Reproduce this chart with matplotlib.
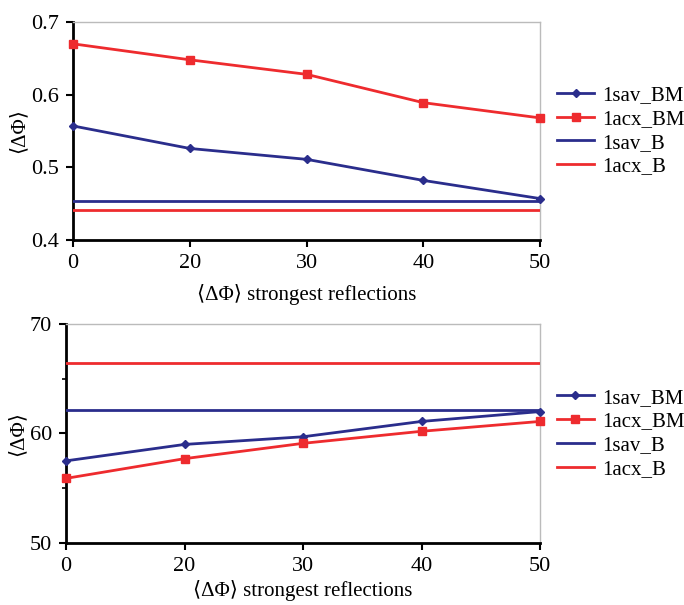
import matplotlib
matplotlib.use('Agg')
import matplotlib.pyplot as plt
from matplotlib.ticker import MultipleLocator

plt.rcParams['font.family'] = ['Liberation Serif', 'DejaVu Serif']

x_labels = ['0', '20', '30', '40', '50']

# top panel
top_sav_bm = [0.557, 0.526, 0.511, 0.482, 0.457]
top_acx_bm = [0.670, 0.648, 0.628, 0.589, 0.568]
top_sav_b = 0.453
top_acx_b = 0.441

# bottom panel
bot_sav_bm = [57.5, 59.0, 59.7, 61.1, 62.0]
bot_acx_bm = [55.9, 57.7, 59.1, 60.2, 61.1]
bot_sav_b = 62.1
bot_acx_b = 66.45

navy = '#2a2d8c'
red = '#ee2b2e'

fig = plt.figure(figsize=(6.84, 6.05), dpi=100)
ax1 = fig.add_axes([0.1067, 0.6033, 0.683, 0.3603])
ax2 = fig.add_axes([0.0965, 0.1025, 0.693, 0.362])

xs = list(range(len(x_labels)))


def draw(ax, sav_bm, acx_bm, sav_b, acx_b, xpad):
    ax.plot(xs, sav_bm, color=navy, marker='D', markersize=4.5, lw=2, label='1sav_BM', clip_on=False, zorder=4)
    ax.plot(xs, acx_bm, color=red, marker='s', markersize=6, lw=2, label='1acx_BM', clip_on=False, zorder=4)
    ax.plot(xs, [sav_b] * len(xs), color=navy, lw=2, label='1sav_B', zorder=3)
    ax.plot(xs, [acx_b] * len(xs), color=red, lw=2, label='1acx_B', zorder=3)
    ax.set_xlim(0, len(xs) - 1)
    ax.set_xticks(xs)
    ax.set_xticklabels(x_labels)
    for s in ['top', 'right']:
        ax.spines[s].set_color('#bbbbbb')
        ax.spines[s].set_linewidth(1)
    for s in ['left', 'bottom']:
        ax.spines[s].set_color('black')
        ax.spines[s].set_linewidth(2)
    ax.tick_params(axis='both', which='major', direction='out', length=5, width=1.5,
                   labelsize=16, colors='black', pad=5)
    ax.tick_params(axis='y', which='minor', direction='out', length=3, width=1.2)
    ax.set_xlabel('⟨ΔΦ⟩ strongest reflections', fontsize=15, labelpad=xpad)
    ax.set_ylabel('⟨ΔΦ⟩', fontsize=15, labelpad=2)
    ax.legend(loc='center left', bbox_to_anchor=(1.0, 0.5), frameon=False,
              fontsize=15, handlelength=1.8, handletextpad=0.4,
              labelspacing=0.2, borderaxespad=0.4)


draw(ax1, top_sav_bm, top_acx_bm, top_sav_b, top_acx_b, 8)
ax1.set_ylim(0.4, 0.7)
ax1.set_yticks([0.4, 0.5, 0.6, 0.7])
ax1.set_yticklabels(['0.4', '0.5', '0.6', '0.7'])

draw(ax2, bot_sav_bm, bot_acx_bm, bot_sav_b, bot_acx_b, 3)
ax2.set_ylim(50, 70)
ax2.set_yticks([50, 60, 70])
ax2.yaxis.set_minor_locator(MultipleLocator(5))

fig.savefig('out.png', dpi=100)
